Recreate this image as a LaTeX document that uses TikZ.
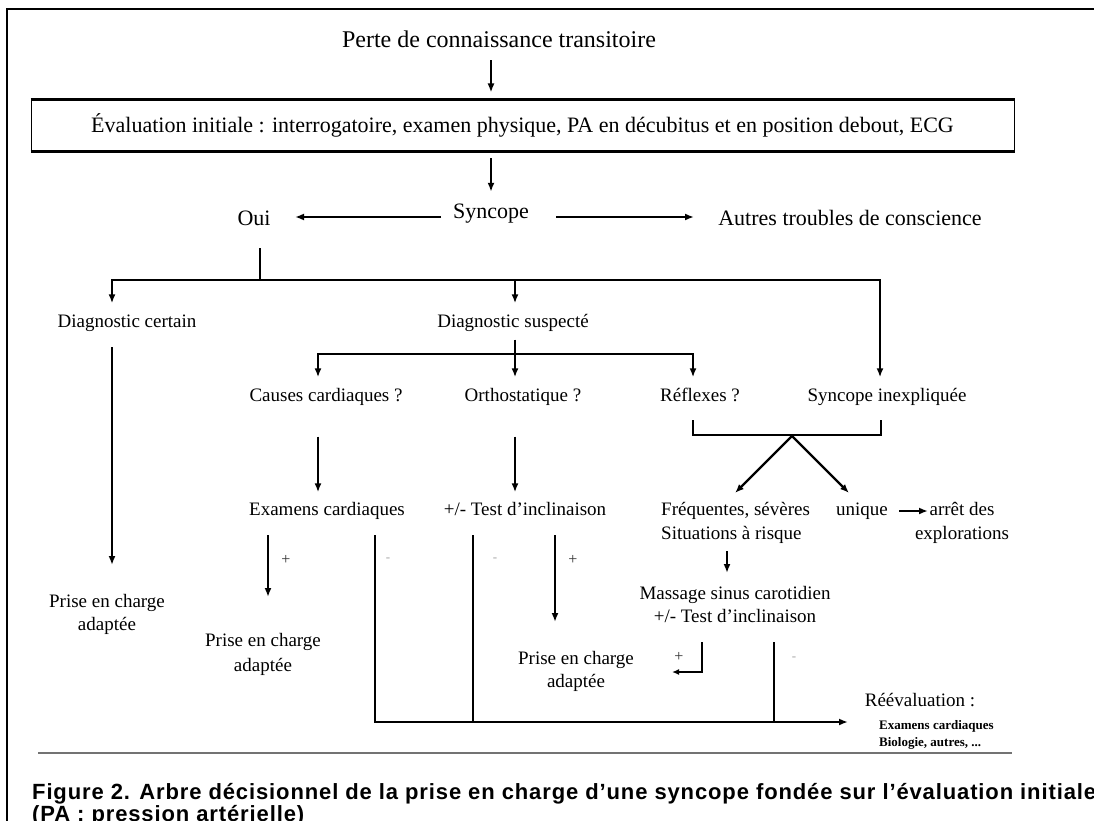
\documentclass[tikz,border=0pt]{standalone}
\usepackage{fontspec}
\setmainfont{Liberation Serif}
\setsansfont{Liberation Sans}
\newfontfamily\capfont[LetterSpace=4.0]{Liberation Sans}
\usetikzlibrary{arrows.meta,calc}
\begin{document}
\begin{tikzpicture}[x=1pt,y=-1pt,
  txt/.style={inner sep=0pt, font=\fontsize{19}{23}\selectfont, text height=13pt, text depth=4pt},
  txtm/.style={inner sep=0pt, align=center, font=\fontsize{19}{23}\selectfont},
  txtb/.style={inner sep=0pt, font=\fontsize{22}{26}\selectfont, text height=15pt, text depth=5pt},
  conn/.style={line width=2.2pt, -{Latex[length=9pt,width=7pt]}},
  ln/.style={line width=2.2pt},
  thinln/.style={line width=1.6pt},
  plus/.style={inner sep=0pt, font=\fontsize{16}{16}\selectfont, text=black!80},
  minus/.style={inner sep=0pt, font=\fontsize{13}{13}\selectfont, text=black!35},
  captxt/.style={anchor=base west, inner sep=0pt, font=\capfont\bfseries\fontsize{22}{24}\selectfont},
]
\useasboundingbox (0,0) rectangle (1094,821);
\clip (0,0) rectangle (1094,821);
\fill[white] (0,0) rectangle (1094,821);

% frame
\draw[line width=2pt] (7,830) -- (7,9) -- (1100,9);

% nodes
\node[inner sep=0pt, font=\fontsize{24}{28}\selectfont, text height=17pt, text depth=5pt] (perte) at (499,42) {Perte de connaissance transitoire};
\node[draw, line width=1pt, minimum width=983pt, minimum height=51pt, inner sep=0pt, font=\fontsize{22}{26}\selectfont] (eval) at (522.5,125.5) {Évaluation initiale : interrogatoire, examen physique, PA en décubitus et en position debout, ECG};
\draw[line width=3pt] (eval.north west) -- (eval.north east);
\draw[line width=3pt] (eval.south west) -- (eval.south east);

\node[txtb] (syn) at (491,213) {Syncope};
\node[txtb] (oui) at (254,220) {Oui};
\node[txtb] (autres) at (850,220) {Autres troubles de conscience};

\node[txt] (dcert) at (127,323) {Diagnostic certain};
\node[txt] (dsusp) at (513,323) {Diagnostic suspecté};

\node[txt] (causes) at (326,397) {Causes cardiaques ?};
\node[txt] (orth) at (523,397) {Orthostatique ?};
\node[txt] (reflexes) at (700,397) {Réflexes ?};
\node[txt] (sinex) at (887,397) {Syncope inexpliquée};

\node[txt] (exam) at (327,511) {Examens cardiaques};
\node[txt] (test) at (525,511) {+/- Test d’inclinaison};
\node[txtm, align=left, anchor=west, font=\fontsize{19}{24}\selectfont] (freq) at (661,523) {Fréquentes, sévères\\Situations à risque};
\node[txt] (unique) at (862,511) {unique};
\node[txtm, font=\fontsize{19}{24}\selectfont] (arret) at (962,523) {arrêt des\\explorations};

\node[txtm] (massage) at (735,604.5) {Massage sinus carotidien\\+/- Test d’inclinaison};

\node[txtm] (prise1) at (107,614) {Prise en charge\\adaptée};
\node[txtm, font=\fontsize{19}{25}\selectfont] (prise2) at (263,654.5) {Prise en charge\\adaptée};
\node[txtm] (prise3) at (576,671) {Prise en charge\\adaptée};

\node[txt] (reeval) at (920,702) {Réévaluation :};
\node[inner sep=0pt, anchor=west, align=left, font=\bfseries\fontsize{13}{17}\selectfont] (note) at (879,734.5) {Examens cardiaques\\Biologie, autres, ...};

% signs
\node[plus] (s1) at (286,560) {+};
\node[minus] (s2) at (388,560) {-};
\node[minus] (s3) at (495,560) {-};
\node[plus] (s4) at (573,560) {+};
\node[plus] (s5) at (679,657) {+};
\node[minus] (s6) at (794,659) {-};

% coordinates
\coordinate (o1) at (260,248);
\coordinate (b1O) at (260,280);
\coordinate (b1L) at (112,280);
\coordinate (b1M) at (515,280);
\coordinate (b1R) at (880,280);
\coordinate (b2M) at (515,354);
\coordinate (b2L) at (318,354);
\coordinate (b2R) at (693,354);
\coordinate (sl) at (441,217);
\coordinate (ol) at (295,217);
\coordinate (sr) at (556,217);
\coordinate (ar) at (694,217);
\coordinate (k1) at (693,420);
\coordinate (k2) at (693,435);
\coordinate (k3) at (881,435);
\coordinate (k4) at (881,420);
\coordinate (kM) at (792,436);
\coordinate (t1) at (735,493);
\coordinate (t2) at (849,493);
\coordinate (ua) at (928,511);
\coordinate (fm1) at (727,551);
\coordinate (fm2) at (727,573);
\coordinate (dc1) at (112,347);
\coordinate (dc2) at (112,565);
\coordinate (ep1) at (268,535);
\coordinate (ep2) at (268,597);
\coordinate (em1) at (375,535);
\coordinate (tm1) at (473,535);
\coordinate (tp1) at (555,535);
\coordinate (tp2) at (555,622);
\coordinate (mp1) at (702,642);
\coordinate (mp3) at (672,672);
\coordinate (mm1) at (774,642);
\coordinate (bb2) at (473,722);
\coordinate (bb3) at (774,722);
\coordinate (bbE) at (848,722);

% connectors
\draw[conn, shorten <=7pt, shorten >=7pt] (perte.south -| syn) -- (eval.north -| syn);
\draw[conn, shorten <=7pt, shorten >=11pt] (eval.south -| syn) -- (syn.north);
\draw[conn] (sl) -- (ol);
\draw[conn] (sr) -- (ar);

\draw[ln] (o1) -- (b1O);
\draw[conn, shorten >=11pt] (b1O) -| (dcert.north -| b1L);
\draw[conn, shorten >=11pt] (b1O) -| (sinex.north -| b1R);
\draw[conn, shorten >=11pt] (b1M) -- (dsusp.north -| b1M);

\draw[conn] (dc1) -- (dc2);

\draw[ln, shorten <=8pt] (dsusp.south -| b1M) -- (b2M);
\draw[conn, shorten >=11pt] (b2M) -- (orth.north -| b2M);
\draw[conn, shorten >=11pt] (b2M) -| (causes.north -| b2L);
\draw[conn, shorten >=11pt] (b2M) -| (reflexes.north -| b2R);

\draw[conn, shorten <=31pt, shorten >=10pt] (causes.south -| b2L) -- (exam.north -| b2L);
\draw[conn, shorten <=31pt, shorten >=10pt] (orth.south -| b2M) -- (test.north -| b2M);

\draw[ln] (k1) -- (k2) -- (k3) -- (k4);
\draw[conn] (kM) -- (t1);
\draw[conn] (kM) -- (t2);
\draw[conn, shorten <=11pt] (unique.east) -- (ua);
\draw[conn] (fm1) -- (fm2);

\draw[conn] (ep1) -- (ep2);
\draw[conn] (tp1) -- (tp2);
\draw[conn] (em1) |- (bbE);
\draw[ln] (tm1) -- (bb2);
\draw[thinln] (mm1) -- (bb3);
\draw[thinln, -{Latex[length=7pt,width=6pt]}] (mp1) |- (mp3);

% rule and caption
\draw[line width=2pt, black!55] (38,753) -- (1012,753);
\node[captxt] (cap1) at (32,799) {Figure 2. Arbre décisionnel de la prise en charge d’une syncope fondée sur l’évaluation initiale};
\node[captxt] (cap2) at (32,821) {(PA : pression artérielle)};
\end{tikzpicture}
\end{document}
